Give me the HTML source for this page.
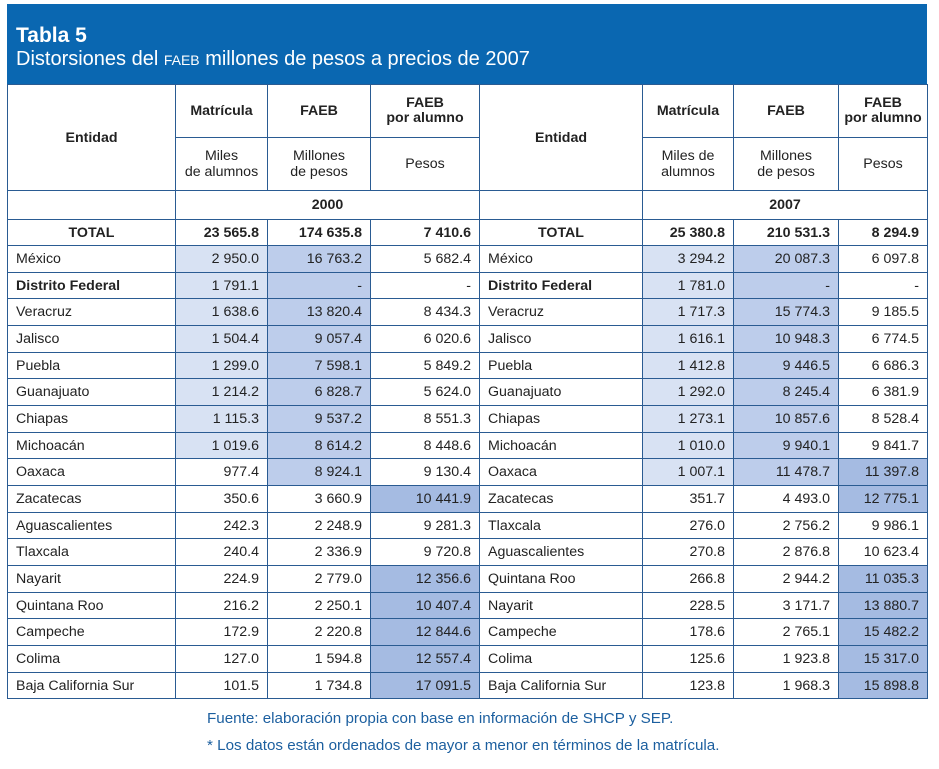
<!DOCTYPE html>
<html><head><meta charset="utf-8"><style>
body{margin:0;width:939px;height:769px;background:#fff;font-family:"Liberation Sans",Arial,sans-serif;position:relative;overflow:hidden}
#hd{position:absolute;left:7px;top:4px;width:920px;height:80px;background:#0a67b1;color:#fff}
#hd .t{position:absolute;left:9px;top:20px;font-size:21px;font-weight:bold}
#hd .s{position:absolute;left:9px;top:44px;font-size:20px}
table{position:absolute;left:7px;top:84px;width:920px;border-collapse:collapse;table-layout:fixed;font-size:14.2px;color:#222}
td{border:1px solid #2a5b92;padding:0 8px;white-space:nowrap;overflow:hidden}
td.n{text-align:right}
.h td{text-align:center;font-weight:bold;padding:0 2px}
.b{font-weight:bold}
.l{background:#d8e2f3}.m{background:#bdcdeb}.d{background:#a5bbe2}
.f{position:absolute;left:207px;font-size:15.2px;color:#1c5f9f}
</style></head><body>
<div id="hd"><div class="t">Tabla 5</div><div class="s">Distorsiones del <span style="font-size:14px">FAEB</span> millones de pesos a precios de 2007</div></div>
<table>
<colgroup><col style="width:168px"><col style="width:92px"><col style="width:103px"><col style="width:109px"><col style="width:163px"><col style="width:91px"><col style="width:105px"><col style="width:89px"></colgroup>
<tr class="h" style="height:53px"><td rowspan="2">Entidad</td><td>Matrícula</td><td>FAEB</td><td style="line-height:15px">FAEB<br>por alumno</td><td rowspan="2">Entidad</td><td>Matrícula</td><td>FAEB</td><td style="line-height:15px">FAEB<br>por alumno</td></tr>
<tr style="height:53px;text-align:center;line-height:16px"><td>Miles<br>de alumnos</td><td>Millones<br>de pesos</td><td>Pesos</td><td>Miles de<br>alumnos</td><td>Millones<br>de pesos</td><td>Pesos</td></tr>
<tr class="h" style="height:29px"><td></td><td colspan="3">2000</td><td></td><td colspan="3">2007</td></tr>
<tr class="b" style="height:26px"><td style="text-align:center">TOTAL</td><td class="n">23 565.8</td><td class="n">174 635.8</td><td class="n">7 410.6</td><td style="text-align:center">TOTAL</td><td class="n">25 380.8</td><td class="n">210 531.3</td><td class="n">8 294.9</td></tr>
<tr style="height:27px"><td>México</td><td class="n l">2 950.0</td><td class="n m">16 763.2</td><td class="n">5 682.4</td><td>México</td><td class="n l">3 294.2</td><td class="n m">20 087.3</td><td class="n">6 097.8</td></tr>
<tr style="height:26px"><td class="b">Distrito Federal</td><td class="n l">1 791.1</td><td class="n m">-</td><td class="n">-</td><td class="b">Distrito Federal</td><td class="n l">1 781.0</td><td class="n m">-</td><td class="n">-</td></tr>
<tr style="height:27px"><td>Veracruz</td><td class="n l">1 638.6</td><td class="n m">13 820.4</td><td class="n">8 434.3</td><td>Veracruz</td><td class="n l">1 717.3</td><td class="n m">15 774.3</td><td class="n">9 185.5</td></tr>
<tr style="height:27px"><td>Jalisco</td><td class="n l">1 504.4</td><td class="n m">9 057.4</td><td class="n">6 020.6</td><td>Jalisco</td><td class="n l">1 616.1</td><td class="n m">10 948.3</td><td class="n">6 774.5</td></tr>
<tr style="height:26px"><td>Puebla</td><td class="n l">1 299.0</td><td class="n m">7 598.1</td><td class="n">5 849.2</td><td>Puebla</td><td class="n l">1 412.8</td><td class="n m">9 446.5</td><td class="n">6 686.3</td></tr>
<tr style="height:27px"><td>Guanajuato</td><td class="n l">1 214.2</td><td class="n m">6 828.7</td><td class="n">5 624.0</td><td>Guanajuato</td><td class="n l">1 292.0</td><td class="n m">8 245.4</td><td class="n">6 381.9</td></tr>
<tr style="height:27px"><td>Chiapas</td><td class="n l">1 115.3</td><td class="n m">9 537.2</td><td class="n">8 551.3</td><td>Chiapas</td><td class="n l">1 273.1</td><td class="n m">10 857.6</td><td class="n">8 528.4</td></tr>
<tr style="height:26px"><td>Michoacán</td><td class="n l">1 019.6</td><td class="n m">8 614.2</td><td class="n">8 448.6</td><td>Michoacán</td><td class="n l">1 010.0</td><td class="n m">9 940.1</td><td class="n">9 841.7</td></tr>
<tr style="height:27px"><td>Oaxaca</td><td class="n">977.4</td><td class="n m">8 924.1</td><td class="n">9 130.4</td><td>Oaxaca</td><td class="n l">1 007.1</td><td class="n m">11 478.7</td><td class="n d">11 397.8</td></tr>
<tr style="height:27px"><td>Zacatecas</td><td class="n">350.6</td><td class="n">3 660.9</td><td class="n d">10 441.9</td><td>Zacatecas</td><td class="n">351.7</td><td class="n">4 493.0</td><td class="n d">12 775.1</td></tr>
<tr style="height:26px"><td>Aguascalientes</td><td class="n">242.3</td><td class="n">2 248.9</td><td class="n">9 281.3</td><td>Tlaxcala</td><td class="n">276.0</td><td class="n">2 756.2</td><td class="n">9 986.1</td></tr>
<tr style="height:27px"><td>Tlaxcala</td><td class="n">240.4</td><td class="n">2 336.9</td><td class="n">9 720.8</td><td>Aguascalientes</td><td class="n">270.8</td><td class="n">2 876.8</td><td class="n">10 623.4</td></tr>
<tr style="height:27px"><td>Nayarit</td><td class="n">224.9</td><td class="n">2 779.0</td><td class="n d">12 356.6</td><td>Quintana Roo</td><td class="n">266.8</td><td class="n">2 944.2</td><td class="n d">11 035.3</td></tr>
<tr style="height:26px"><td>Quintana Roo</td><td class="n">216.2</td><td class="n">2 250.1</td><td class="n d">10 407.4</td><td>Nayarit</td><td class="n">228.5</td><td class="n">3 171.7</td><td class="n d">13 880.7</td></tr>
<tr style="height:27px"><td>Campeche</td><td class="n">172.9</td><td class="n">2 220.8</td><td class="n d">12 844.6</td><td>Campeche</td><td class="n">178.6</td><td class="n">2 765.1</td><td class="n d">15 482.2</td></tr>
<tr style="height:27px"><td>Colima</td><td class="n">127.0</td><td class="n">1 594.8</td><td class="n d">12 557.4</td><td>Colima</td><td class="n">125.6</td><td class="n">1 923.8</td><td class="n d">15 317.0</td></tr>
<tr style="height:26px"><td>Baja California Sur</td><td class="n">101.5</td><td class="n">1 734.8</td><td class="n d">17 091.5</td><td>Baja California Sur</td><td class="n">123.8</td><td class="n">1 968.3</td><td class="n d">15 898.8</td></tr>
</table>
<div class="f" style="top:710px">Fuente: elaboración propia con base en información de SHCP y SEP.</div>
<div class="f" style="top:737px">* Los datos están ordenados de mayor a menor en términos de la matrícula.</div>
</body></html>
